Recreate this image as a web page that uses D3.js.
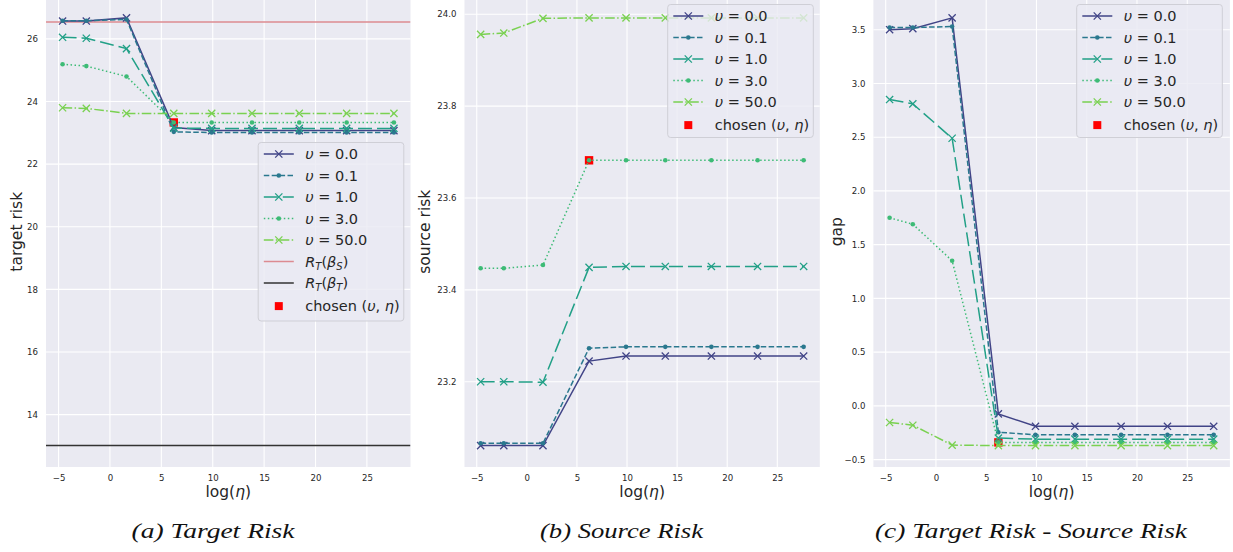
<!DOCTYPE html>
<html><head><meta charset="utf-8">
<script src="https://cdn.jsdelivr.net/npm/d3@7"></script>
<style>body{margin:0;background:#fff} svg{display:block}</style>
</head><body>
<svg id="chart" width="1233" height="552"></svg>
<script>
// ---------------- data ----------------
const logEta = [-4.61, -2.30, 1.61, 6.21, 9.90, 13.82, 18.42, 23.03, 27.63];
const upsilonLabels = ["0.0", "0.1", "1.0", "3.0", "50.0"];
const xTickValues = [-5, 0, 5, 10, 15, 20, 25];

const targetU00  = [26.57, 26.57, 26.67, 23.17, 23.07, 23.07, 23.07, 23.07, 23.07];
const targetU01  = [26.58, 26.58, 26.62, 23.03, 23.01, 23.01, 23.01, 23.01, 23.01];
const targetU10  = [26.05, 26.02, 25.69, 23.15, 23.14, 23.14, 23.14, 23.14, 23.14];
const targetU30  = [25.19, 25.13, 24.80, 23.33, 23.33, 23.33, 23.33, 23.33, 23.33];
const targetU500 = [23.80, 23.78, 23.62, 23.62, 23.62, 23.62, 23.62, 23.62, 23.62];
const riskSourceModel = 26.54;   // R_T(beta_S)
const riskTargetModel = 13.01;   // R_T(beta_T)
const targetTicks = [14, 16, 18, 20, 22, 24, 26];

const sourceU00  = [23.061, 23.061, 23.061, 23.245, 23.256, 23.256, 23.256, 23.256, 23.256];
const sourceU01  = [23.066, 23.066, 23.066, 23.273, 23.276, 23.276, 23.276, 23.276, 23.276];
const sourceU10  = [23.200, 23.200, 23.199, 23.449, 23.451, 23.451, 23.451, 23.451, 23.451];
const sourceU30  = [23.447, 23.447, 23.454, 23.682, 23.682, 23.682, 23.682, 23.682, 23.682];
const sourceU500 = [23.956, 23.959, 23.991, 23.992, 23.992, 23.992, 23.992, 23.992, 23.992];
const sourceTicks = [23.2, 23.4, 23.6, 23.8, 24.0];

const gapU00  = [3.50, 3.51, 3.61, -0.075, -0.19, -0.19, -0.19, -0.19, -0.19];
const gapU01  = [3.52, 3.52, 3.53, -0.245, -0.27, -0.27, -0.27, -0.27, -0.27];
const gapU10  = [2.85, 2.81, 2.49, -0.30, -0.31, -0.31, -0.31, -0.31, -0.31];
const gapU30  = [1.75, 1.69, 1.35, -0.34, -0.34, -0.34, -0.34, -0.34, -0.34];
const gapU500 = [-0.155, -0.18, -0.365, -0.37, -0.37, -0.37, -0.37, -0.37, -0.37];
const gapTicks = [-0.5, 0.0, 0.5, 1.0, 1.5, 2.0, 2.5, 3.0, 3.5];

const chosenSeries = 3;   // upsilon = 3.0
const chosenEta = 3;      // log(eta) = 6.21

const captions = ["(a) Target Risk", "(b) Source Risk", "(c) Target Risk - Source Risk"];

// ---------------- style ----------------
const colors = ["#414487", "#2a788e", "#22a087", "#3dbb76", "#7ad151"];
const dashes = [null, "5.5,2.4", "14,5", "1.5,2.5", "9.6,2.4,1.5,2.4"];
const markers = ["x", "dot", "x", "dot", "x"];
const FONT = "DejaVu Sans, sans-serif";
const TXT = "#262626";

const svg = d3.select("#chart");
svg.append("rect").attr("width", 1233).attr("height", 552).attr("fill", "#fff");

const plotTop = -3.5, plotBottom = 467;

function drawMarker(g, type, x, y, color, s = 1) {
  if (type === "x") {
    const h = 3.6 * s;
    g.append("path").attr("d", `M${x - h},${y - h}L${x + h},${y + h}M${x - h},${y + h}L${x + h},${y - h}`)
      .attr("stroke", color).attr("stroke-width", 1.3).attr("fill", "none");
  } else if (type === "dot") {
    g.append("circle").attr("cx", x).attr("cy", y).attr("r", 2.3 * s).attr("fill", color);
  } else if (type === "square") {
    const h = 4.2 * s;
    g.append("rect").attr("x", x - h).attr("y", y - h).attr("width", 2 * h).attr("height", 2 * h).attr("fill", "#ff0000");
  }
}

function upsLabel(t, val) {
  t.append("tspan").attr("font-style", "italic").text("υ");
  t.append("tspan").text(" = " + val);
}

function panel(cfg) {
  const g = svg.append("g");
  const x = d3.scaleLinear().domain([-6.222, 29.242]).range([cfg.left, cfg.right]);
  const ext = d3.extent(cfg.extentVals);
  const m = (ext[1] - ext[0]) * 0.05;
  const y = d3.scaleLinear().domain([ext[0] - m, ext[1] + m]).range([plotBottom, plotTop]);

  g.append("rect").attr("x", cfg.left).attr("y", plotTop).attr("width", cfg.right - cfg.left)
    .attr("height", plotBottom - plotTop).attr("fill", "#eaeaf2");
  // grid
  g.selectAll(".gx").data(xTickValues).join("line")
    .attr("x1", d => x(d)).attr("x2", d => x(d)).attr("y1", plotTop).attr("y2", plotBottom)
    .attr("stroke", "#fff").attr("stroke-width", 1.1);
  g.selectAll(".gy").data(cfg.yTicks).join("line")
    .attr("x1", cfg.left).attr("x2", cfg.right).attr("y1", d => y(d)).attr("y2", d => y(d))
    .attr("stroke", "#fff").attr("stroke-width", 1.1);

  // axes
  const ax = g.append("g").attr("transform", `translate(0,${plotBottom})`)
    .call(d3.axisBottom(x).tickValues(xTickValues).tickSize(0).tickPadding(8)
      .tickFormat(d => d < 0 ? "−" + Math.abs(d) : String(d)));
  const ay = g.append("g").attr("transform", `translate(${cfg.left},0)`)
    .call(d3.axisLeft(y).tickValues(cfg.yTicks).tickSize(0).tickPadding(8).tickFormat(cfg.fmt));
  [ax, ay].forEach(a => {
    a.select(".domain").remove();
    a.selectAll("text").attr("font-family", FONT).attr("font-size", 8.6).attr("fill", TXT);
  });

  // x label
  const xl = g.append("text").attr("x", (cfg.left + cfg.right) / 2).attr("y", 497)
    .attr("text-anchor", "middle").attr("font-family", FONT).attr("font-size", 15.5).attr("fill", TXT);
  xl.append("tspan").text("log(");
  xl.append("tspan").attr("font-style", "italic").text("η");
  xl.append("tspan").text(")");
  // y label
  g.append("text").attr("transform", `translate(${cfg.ylabelX},${(plotTop + plotBottom) / 2}) rotate(-90)`)
    .attr("text-anchor", "middle").attr("dominant-baseline", "central")
    .attr("font-family", FONT).attr("font-size", 15.5).attr("fill", TXT).text(cfg.ylabel);

  const clip = "clip" + cfg.id;
  svg.append("clipPath").attr("id", clip).append("rect")
    .attr("x", cfg.left).attr("y", plotTop).attr("width", cfg.right - cfg.left).attr("height", plotBottom - plotTop);
  const pg = g.append("g").attr("clip-path", `url(#${clip})`);

  // horizontal reference lines
  (cfg.hlines || []).forEach(h => {
    pg.append("line").attr("x1", cfg.left).attr("x2", cfg.right).attr("y1", y(h.v)).attr("y2", y(h.v))
      .attr("stroke", h.color).attr("stroke-width", 1.5);
  });

  // chosen point (drawn under lines)
  drawMarker(pg, "square", x(logEta[chosenEta]), y(cfg.series[chosenSeries][chosenEta]), "#f00");

  const line = d3.line().x((d, i) => x(logEta[i])).y(d => y(d));
  cfg.series.forEach((s, k) => {
    pg.append("path").attr("d", line(s)).attr("fill", "none").attr("stroke", colors[k])
      .attr("stroke-width", 1.5).attr("stroke-dasharray", dashes[k]);
    s.forEach((v, i) => drawMarker(pg, markers[k], x(logEta[i]), y(v), colors[k]));
  });

  // legend
  const L = cfg.legend;
  const lg = g.append("g");
  lg.append("rect").attr("x", L.x).attr("y", L.y).attr("width", 145.6).attr("height", L.h)
    .attr("rx", 3).attr("fill", "#eaeaf2").attr("fill-opacity", 0.8).attr("stroke", "#cfcfd6").attr("stroke-width", 1);
  const rows = [];
  upsilonLabels.forEach((u, k) => rows.push({kind: "series", k, u}));
  (cfg.hlines || []).forEach(h => rows.push({kind: "hline", h}));
  rows.push({kind: "chosen"});
  rows.forEach((r, i) => {
    const cy = L.y + 11.5 + 21.5 * i + (r.kind === "chosen" ? 1.6 : 0);
    const hx0 = L.x + 5.6, hx1 = L.x + 35.6, tx = L.x + 47;
    const t = lg.append("text").attr("x", tx).attr("y", cy).attr("dominant-baseline", "central")
      .attr("font-family", FONT).attr("font-size", 14.5).attr("fill", TXT);
    if (r.kind === "series") {
      lg.append("line").attr("x1", hx0).attr("x2", hx1).attr("y1", cy).attr("y2", cy)
        .attr("stroke", colors[r.k]).attr("stroke-width", 1.5).attr("stroke-dasharray", dashes[r.k]);
      drawMarker(lg, markers[r.k], (hx0 + hx1) / 2, cy, colors[r.k]);
      upsLabel(t, r.u);
    } else if (r.kind === "hline") {
      lg.append("line").attr("x1", hx0).attr("x2", hx1).attr("y1", cy).attr("y2", cy)
        .attr("stroke", r.h.color).attr("stroke-width", 1.5);
      t.append("tspan").attr("font-style", "italic").text("R");
      t.append("tspan").attr("font-style", "italic").attr("font-size", 10).attr("dy", 4).text("T");
      t.append("tspan").attr("dy", -4).text("(");
      t.append("tspan").attr("font-style", "italic").text("β");
      t.append("tspan").attr("font-style", "italic").attr("font-size", 10).attr("dy", 4).text(r.h.sub);
      t.append("tspan").attr("dy", -4).text(")");
    } else {
      drawMarker(lg, "square", (hx0 + hx1) / 2, cy, "#f00", 0.95);
      t.append("tspan").text("chosen (");
      t.append("tspan").attr("font-style", "italic").text("υ");
      t.append("tspan").text(", ");
      t.append("tspan").attr("font-style", "italic").text("η");
      t.append("tspan").text(")");
    }
  });

  // caption
  svg.append("text").attr("x", cfg.capX).attr("y", 538).attr("text-anchor", "middle")
    .attr("font-family", "Liberation Serif, DejaVu Serif, serif").attr("font-style", "italic")
    .attr("font-size", 20.5).attr("fill", "#111")
    .attr("textLength", cfg.capW).attr("lengthAdjust", "spacingAndGlyphs").text(cfg.caption);
}

const targetSeries = [targetU00, targetU01, targetU10, targetU30, targetU500];
const sourceSeries = [sourceU00, sourceU01, sourceU10, sourceU30, sourceU500];
const gapSeries = [gapU00, gapU01, gapU10, gapU30, gapU500];

panel({
  id: "a", left: 46, right: 410.5, series: targetSeries,
  extentVals: targetSeries.flat().concat([riskSourceModel, riskTargetModel]),
  yTicks: targetTicks, fmt: d3.format("d"), ylabel: "target risk", ylabelX: 17,
  hlines: [{v: riskSourceModel, color: "#dc8b91", sub: "S"}, {v: riskTargetModel, color: "#333333", sub: "T"}],
  legend: {x: 258.2, y: 142.5, h: 178.5},
  caption: captions[0], capX: 213, capW: 163
});
panel({
  id: "b", left: 464.5, right: 819.8, series: sourceSeries,
  extentVals: sourceSeries.flat(),
  yTicks: sourceTicks, fmt: d3.format(".1f"), ylabel: "source risk", ylabelX: 425,
  legend: {x: 667.7, y: 4.5, h: 133},
  caption: captions[1], capX: 621.5, capW: 163
});
panel({
  id: "c", left: 873.4, right: 1229.9, series: gapSeries,
  extentVals: gapSeries.flat(),
  yTicks: gapTicks, fmt: d3.format(".1f"), ylabel: "gap", ylabelX: 837,
  legend: {x: 1076.7, y: 4.5, h: 133},
  caption: captions[2], capX: 1031, capW: 312
});
</script>
</body></html>
